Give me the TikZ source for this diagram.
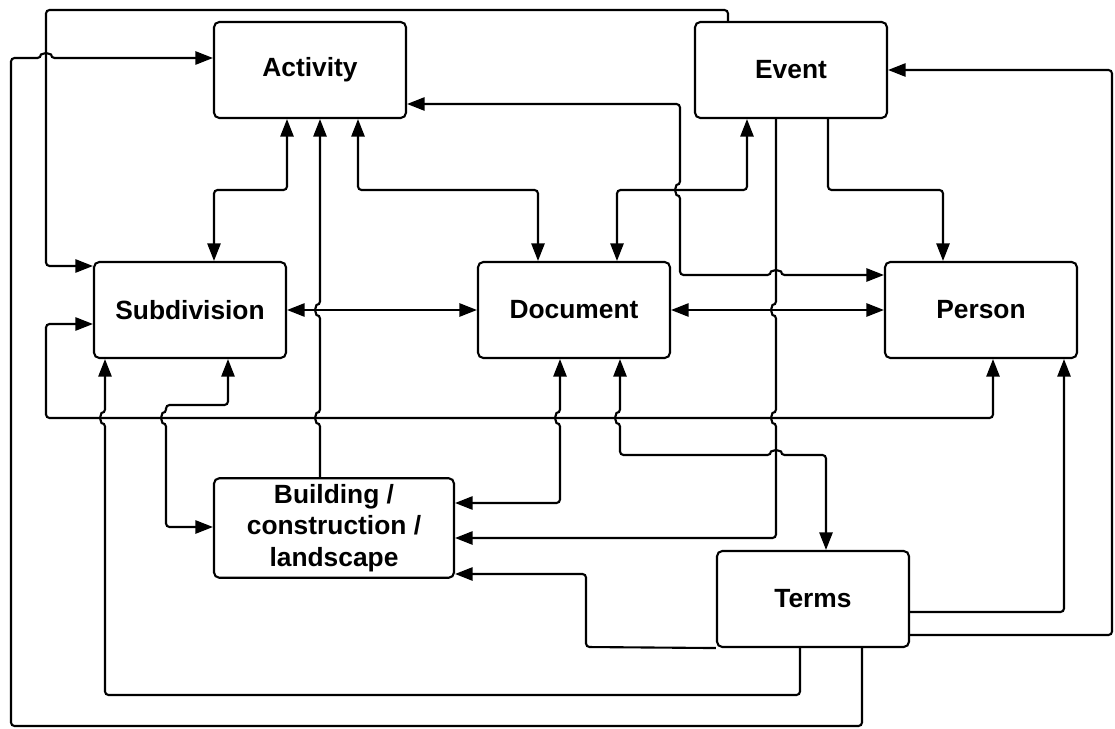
\documentclass[tikz,border=0pt]{standalone}
\usepackage{fontspec}
\setmainfont{Liberation Sans}
\usetikzlibrary{arrows.meta}
\tikzset{box/.style = {draw, line width=1.2pt, rounded corners=3pt,
                       minimum width=3.84cm, minimum height=1.92cm,
                       font=\fontsize{15}{18}\selectfont\bfseries},
         link/.style = {line width=1.2pt, rounded corners=2pt},
         >={Triangle[length=10pt, width=7.5pt]}}
% line jumps (r = 5px): vertical ones bulge left, horizontal ones bulge up
\newcommand{\hopup}[2]{-- (#1,#2+5) arc [start angle=-90, end angle=-270, radius=1mm]}
\newcommand{\hopdown}[2]{-- (#1,#2-5) arc [start angle=90, end angle=270, radius=1mm]}
\newcommand{\hopright}[2]{-- (#1-5,#2) arc [start angle=180, end angle=0, radius=1mm]}

\begin{document}
\begin{tikzpicture}[x=0.02cm, y=-0.02cm]
  \useasboundingbox (0,0) rectangle (1115,729);

  \node [box] (act) at (310,70) {Activity};
  \node [box] (evt) at (791,70) {Event};
  \node [box] (sub) at (190,310) {Subdivision};
  \node [box] (doc) at (574,310) {Document};
  \node [box] (per) at (981,310) {Person};
  \node [box, minimum width=4.8cm, align=center] (bld) at (334,528) {Building /\\construction /\\landscape};
  \node [box] (trm) at (813,599) {Terms};

  \draw [link, ->] (evt.north -| 728,0) -- (728,10) -- (46,10) |- (sub.west |- 0,266);
  \draw [link, ->] (trm.south -| 862,0) -- (862,726) -- (11,726) -- (11,58) \hopright{46}{58} -- (act.west |- 0,58);
  \draw [link, <->] (act.south -| 287,0) -- (287,190) -- (214,190) -- (sub.north -| 214,0);
  \draw [link, ->] (bld.north -| 320,0) \hopup{320}{418} \hopup{320}{310} -- (act.south -| 320,0);
  \draw [link, <->] (act.south -| 358,0) -- (358,190) -- (538,190) -- (doc.north -| 538,0);
  \draw [link, <->] (act.east |- 0,104) -- (680,104) \hopdown{680}{190} -- (680,275) \hopright{776}{275} -- (per.west |- 0,275);
  \draw [link, <->] (evt.south -| 747,0) -- (747,190) -- (617,190) -- (doc.north -| 617,0);
  \draw [link, ->] (evt.south -| 828,0) -- (828,190) -- (943,190) -- (per.north -| 943,0);
  \draw [link, ->] (evt.south -| 776,0) \hopdown{776}{310} \hopdown{776}{418} -- (776,538) -- (bld.east |- 0,538);
  \draw [link, <->] (doc.south -| 620,0) \hopdown{620}{418} -- (620,455) \hopright{776}{455} -- (826,455) -- (trm.north -| 826,0);
  \draw [link, <->] (doc.south -| 560,0) \hopdown{560}{418} -- (560,503) -- (bld.east |- 0,503);
  \draw [link, <->] (sub.east) -- (doc.west);
  \draw [link, <->] (doc.east) -- (per.west);
  \draw [link, <->] (sub.west |- 0,324) -- (46,324) -- (46,418) -- (993,418) -- (per.south -| 993,0);
  \draw [link, <->] (sub.south -| 228,0) -- (228,405) -- (166,405) \hopdown{166}{418} -- (166,527) -- (bld.west |- 0,527);
  \draw [link, ->] (trm.south -| 800,0) -- (800,695) -- (105,695) \hopup{105}{418} -- (sub.south -| 105,0);
  \draw [link, ->] (trm.south west) -- (586,647) -- (586,574) -- (bld.east |- 0,574);
  \draw [link, ->] (trm.east |- 0,612) -- (1064,612) -- (per.south -| 1064,0);
  \draw [link, ->] (trm.east |- 0,635) -- (1112,635) -- (1112,70) -- (evt.east);
\end{tikzpicture}
\end{document}
